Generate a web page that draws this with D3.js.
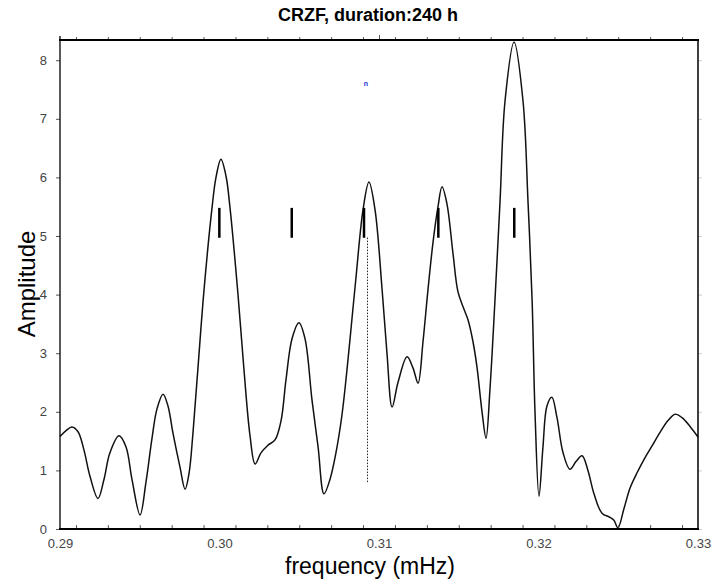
<!DOCTYPE html>
<html>
<head>
<meta charset="utf-8">
<script src="https://cdn.jsdelivr.net/npm/d3@7"></script>
<style>
  body { margin: 0; background: #fff; }
  text { font-family: "Liberation Sans", Arial, sans-serif; }
</style>
</head>
<body>
<div id="chart"></div>
<script>
// spectrum (frequency in mHz, amplitude)
const freq = [
  0.29000, 0.29038, 0.29075, 0.29113, 0.29150, 0.29188, 0.29238, 0.29276, 0.29313, 0.29370,
  0.29414, 0.29451, 0.29502, 0.29539, 0.29577, 0.29608, 0.29646, 0.29677, 0.29708, 0.29752,
  0.29784, 0.29809, 0.29834, 0.29865, 0.29903, 0.29953, 0.29978, 0.30009, 0.30041, 0.30066,
  0.30116, 0.30154, 0.30191, 0.30223, 0.30260, 0.30304, 0.30348, 0.30386, 0.30417, 0.30455,
  0.30498, 0.30536, 0.30580, 0.30618, 0.30655, 0.30693, 0.30730, 0.30768, 0.30806, 0.30831,
  0.30856, 0.30900, 0.30937, 0.30975, 0.31019, 0.31050, 0.31082, 0.31119, 0.31176, 0.31213,
  0.31245, 0.31276, 0.31307, 0.31339, 0.31370, 0.31395, 0.31426, 0.31464, 0.31495, 0.31533,
  0.31558, 0.31589, 0.31614, 0.31646, 0.31671, 0.31696, 0.31727, 0.31759, 0.31790, 0.31847,
  0.31903, 0.31934, 0.31960, 0.31978, 0.32003, 0.32028, 0.32053, 0.32084, 0.32116, 0.32154,
  0.32197, 0.32235, 0.32273, 0.32310, 0.32348, 0.32398, 0.32448, 0.32473, 0.32498, 0.32536,
  0.32574, 0.32618, 0.32668, 0.32712, 0.32762, 0.32812, 0.32856, 0.32900, 0.32950, 0.33000
];
const amp = [
  1.58, 1.68, 1.74, 1.66, 1.35, 0.90, 0.52, 0.85, 1.30, 1.59,
  1.40, 0.85, 0.24, 0.80, 1.55, 2.05, 2.30, 2.10, 1.64, 1.06,
  0.68, 0.95, 1.65, 2.75, 4.08, 5.48, 6.00, 6.31, 6.02, 5.48,
  4.00, 2.70, 1.60, 1.11, 1.30, 1.43, 1.52, 1.85, 2.55, 3.25,
  3.52, 3.25, 2.20, 1.40, 0.60, 0.85, 1.30, 1.95, 2.90, 3.60,
  4.30, 5.45, 5.92, 5.45, 4.10, 3.00, 2.08, 2.50, 2.94, 2.75,
  2.49, 3.20, 4.08, 4.90, 5.50, 5.84, 5.55, 4.70, 4.05, 3.75,
  3.57, 3.20, 2.77, 2.00, 1.55, 2.40, 3.90, 5.60, 7.30, 8.31,
  7.30, 5.60, 3.90, 2.00, 0.56, 1.40, 2.10, 2.25, 1.90, 1.30,
  1.02, 1.15, 1.25, 1.00, 0.60, 0.27, 0.20, 0.15, 0.02, 0.35,
  0.70, 0.96, 1.22, 1.42, 1.65, 1.85, 1.96, 1.90, 1.75, 1.57
];
// short vertical marks and the dotted line
const markFreq = [0.29999, 0.30453, 0.30906, 0.31372, 0.31848];
const markRange = [4.97, 5.48];
const dotFreq = 0.30928;
const dotRange = [0.80, 4.98];

const xTicks = [0.29, 0.30, 0.31, 0.32, 0.33];
const xMinor = d3.range(0.291, 0.3295, 0.002);
const yTicks = [0, 1, 2, 3, 4, 5, 6, 7, 8];

const width = 715, height = 586;
const mLeft = 60, mRight = 698, mTop = 40, mBottom = 529;

const svg = d3.select("#chart").append("svg")
  .attr("width", width)
  .attr("height", height);

const x = d3.scaleLinear().domain([0.29, 0.33]).range([mLeft, mRight]);
const y = d3.scaleLinear().domain([0, 8.345]).range([mBottom, mTop]);

// curve
const line = d3.line()
  .x((d, i) => x(freq[i]))
  .y(d => y(d))
  .curve(d3.curveCatmullRom.alpha(0.5));

svg.append("path")
  .attr("d", line(amp))
  .attr("fill", "none")
  .attr("stroke", "#111")
  .attr("stroke-width", 1.5);

// marks
svg.append("g").selectAll("line")
  .data(markFreq)
  .enter()
  .append("line")
  .attr("x1", d => x(d)).attr("x2", d => x(d))
  .attr("y1", y(markRange[0])).attr("y2", y(markRange[1]))
  .attr("stroke", "#000")
  .attr("stroke-width", 2.5);

svg.append("line")
  .attr("x1", x(dotFreq)).attr("x2", x(dotFreq))
  .attr("y1", y(dotRange[0])).attr("y2", y(dotRange[1]))
  .attr("stroke", "#222")
  .attr("stroke-width", 1)
  .attr("stroke-dasharray", "1.5,1.5");

// axes
const axisStyle = g => {
  g.select(".domain").remove();
  g.selectAll(".tick line").attr("stroke", "#555");
  g.selectAll(".tick text")
    .attr("fill", "#444")
    .style("font-size", "13px")
    .style("font-family", "'Liberation Sans', Arial, sans-serif");
};

svg.append("g")
  .attr("transform", `translate(0,${mBottom})`)
  .call(d3.axisBottom(x).tickValues(xTicks).tickFormat(d3.format(".2f")).tickSize(0).tickPadding(10))
  .call(axisStyle);

svg.append("g")
  .attr("transform", `translate(0,${mBottom})`)
  .call(d3.axisBottom(x).tickValues(xMinor).tickFormat("").tickSize(-4))
  .call(axisStyle);

svg.append("g")
  .attr("transform", `translate(0,${mTop})`)
  .call(d3.axisTop(x).tickValues(xMinor).tickFormat("").tickSize(3))
  .call(axisStyle);

svg.append("g")
  .attr("transform", `translate(0,${mTop})`)
  .call(d3.axisTop(x).tickValues([0.31]).tickFormat("").tickSize(5))
  .call(axisStyle);

svg.append("g")
  .attr("transform", `translate(${mLeft},0)`)
  .call(d3.axisLeft(y).tickValues(yTicks).tickSize(4).tickPadding(9))
  .call(axisStyle);

svg.append("g")
  .attr("transform", `translate(${mRight},0)`)
  .call(d3.axisRight(y).tickValues(yTicks).tickFormat("").tickSize(4))
  .call(axisStyle)
  .selectAll(".tick line").attr("stroke", "#ccc");

// frame
svg.append("line").attr("x1", mLeft - 1).attr("x2", mRight + 1).attr("y1", mTop).attr("y2", mTop)
  .attr("stroke", "#000").attr("stroke-width", 2);
svg.append("line").attr("x1", mLeft - 1).attr("x2", mRight + 1).attr("y1", mBottom).attr("y2", mBottom)
  .attr("stroke", "#000").attr("stroke-width", 2);
svg.append("line").attr("x1", mLeft).attr("x2", mLeft).attr("y1", mTop - 4).attr("y2", mBottom)
  .attr("stroke", "#000").attr("stroke-width", 1.3);
svg.append("line").attr("x1", mRight).attr("x2", mRight).attr("y1", mTop).attr("y2", mBottom)
  .attr("stroke", "#000").attr("stroke-width", 1.5);

// texts
svg.append("text")
  .attr("x", 368).attr("y", 21)
  .attr("text-anchor", "middle")
  .style("font-size", "18px")
  .style("font-weight", "bold")
  .text("CRZF, duration:240 h");

svg.append("text")
  .attr("transform", `translate(35,284) rotate(-90)`)
  .attr("text-anchor", "middle")
  .style("font-size", "24px")
  .text("Amplitude");

svg.append("text")
  .attr("x", 370).attr("y", 574)
  .attr("text-anchor", "middle")
  .style("font-size", "23px")
  .text("frequency (mHz)");

svg.append("text")
  .attr("x", 366).attr("y", 86)
  .attr("text-anchor", "middle")
  .attr("fill", "#2030e0")
  .style("font-size", "7px")
  .style("font-weight", "bold")
  .text("n");
</script>
</body>
</html>
